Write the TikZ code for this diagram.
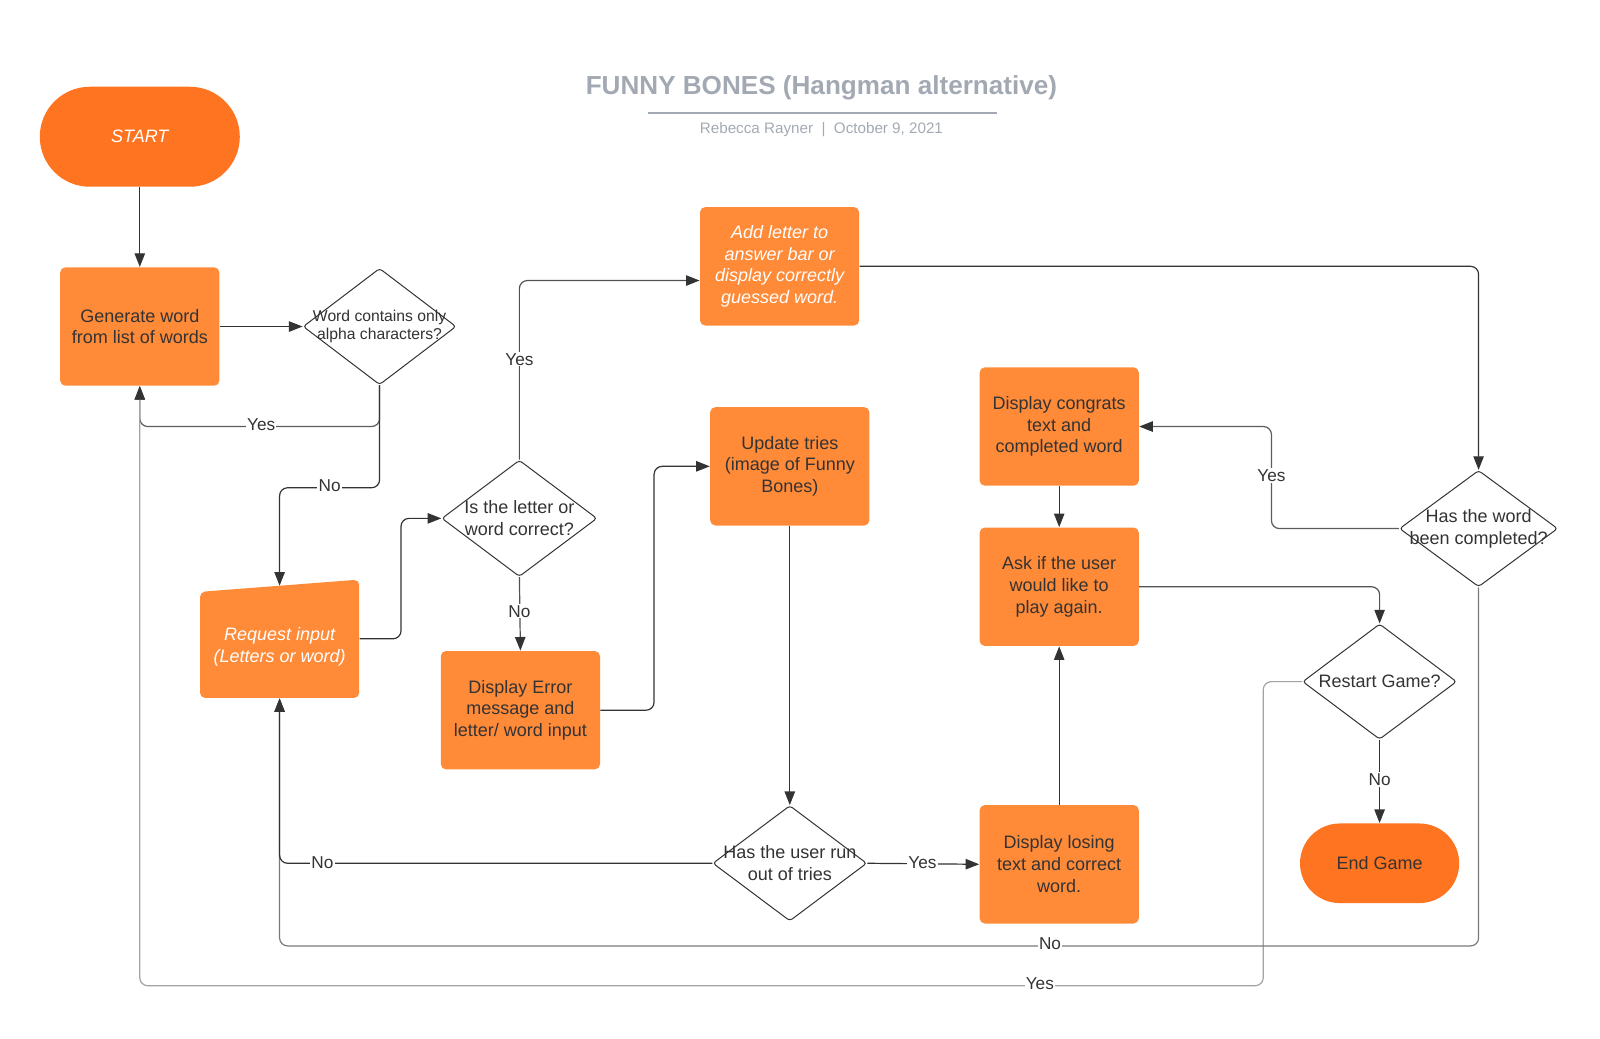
\documentclass[tikz,border=0pt]{standalone}
\usepackage{fontspec}
\setmainfont{Liberation Sans}
\usetikzlibrary{shapes.geometric,arrows.meta}
\definecolor{boxor}{HTML}{FF8A38}
\definecolor{termor}{HTML}{FF7420}
\definecolor{txt}{HTML}{333333}
\definecolor{ln}{HTML}{333333}
\definecolor{ttl}{HTML}{A3A9B3}
\newcommand\boxfont{\fontsize{9}{10.9}\selectfont}
\newcommand\smallfont{\fontsize{7.85}{9.3}\selectfont}
\newcommand\labfont{\fontsize{8.6}{9.8}\selectfont}
\tikzset{
  box/.style={rectangle, rounded corners=2.6pt, fill=boxor, minimum width=79.6pt, minimum height=59.2pt,
    align=center, text=txt, font=\boxfont, inner sep=1pt},
  term/.style={rectangle, fill=termor, align=center, font=\boxfont, inner sep=0pt},
  dia/.style={diamond, draw=ln, line width=0.5pt, inner sep=0pt, rounded corners=1.5pt, fill=white},
  dlab/.style={align=center, text=txt, font=\boxfont, inner sep=0pt},
  conn/.style={draw=ln, line width=0.6pt, -{Triangle[length=6.8pt,width=5.2pt,color=ln]}, rounded corners=4pt},
  lab/.style={fill=white, inner sep=0.6pt, font=\labfont, text=txt}
}
\begin{document}
\begin{tikzpicture}[x=0.5102pt,y=-0.5102pt]
\useasboundingbox (0,0) rectangle (1568,1017.3);

% title
\node[font=\fontsize{13.05}{15}\selectfont\bfseries, text=ttl] (title) at (805,86) {FUNNY BONES (Hangman alternative)};
\coordinate (tl) at (635,111);
\coordinate (tr) at (977,111);
\draw[ttl, line width=1pt] (tl) -- (tr);
\node[font=\fontsize{7.6}{9}\selectfont, text=ttl] (sub) at (805,127) {Rebecca Rayner\ \ |\ \ October 9, 2021};

% nodes
\node[term, minimum width=100pt, minimum height=50pt, rounded corners=25pt, text=white, font=\boxfont\itshape] (start) at (137,134) {START};
\node[box] (gen) at (137,320) {Generate word\\from list of words};
\node[dia, minimum width=76.5pt, minimum height=58.2pt,
  label={[dlab, font=\smallfont]center:{Word contains only\\alpha characters?}}] (d1) at (372,320) {};
\node[box, text=white, font=\boxfont\itshape] (add) at (764,261) {Add letter to\\answer bar or\\display correctly\\guessed word.};
\node[dia, minimum width=77.6pt, minimum height=58.2pt,
  label={[dlab]center:{Is the letter or\\word correct?}}] (d2) at (509,508) {};
\node[box] (upd) at (774,457) {Update tries\\(image of Funny\\Bones)};
\node[box] (cong) at (1038,418) {Display congrats\\text and\\completed word};
\node[box] (ask) at (1038,575) {Ask if the user\\would like to\\play again.};
\node[dia, minimum width=79.1pt, minimum height=58.2pt,
  label={[dlab]center:{Has the word\\been completed?}}] (d3) at (1449,518) {};
\fill[boxor, rounded corners=2.6pt] (196,684) -- (196,580) -- (352,568) -- (352,684) -- cycle;
\node[minimum width=79.6pt, minimum height=59.2pt, inner sep=0pt,
  label={[dlab, text=white, font=\boxfont\itshape, yshift=-4pt]center:{Request input\\(Letters or word)}}] (req) at (274,626) {};
\coordinate (reqtop) at (274,574);
\node[box] (err) at (510,696) {Display Error\\message and\\letter/ word input};
\node[dia, minimum width=77pt, minimum height=57.7pt,
  label={[dlab]center:{Restart Game?}}] (rst) at (1352,668) {};
\node[term, minimum width=79.6pt, minimum height=39.8pt, rounded corners=19.9pt, text=txt] (endg) at (1352,846) {End Game};
\node[dia, minimum width=77pt, minimum height=57.7pt,
  label={[dlab]center:{Has the user run\\out of tries}}] (d4) at (774,846) {};
\node[box] (lose) at (1038,847) {Display losing\\text and correct\\word.};

% connectors
\draw[conn] (start) -- (gen);
\draw[conn] (gen) -- (d1);
\draw[conn, draw=ln!80] (d1.south) |- (256,418) -| (gen.south);
\draw[conn] (d1.south) |- (323,478) -| (reqtop);
\draw[conn] (req.east) -| (393,560) |- (d2.west);
\draw[conn, draw=ln!85] (d2.north) |- ([yshift=-7.1pt]add.west);
\draw[conn, draw=ln!85] (d2.south) -- (err.north);
\draw[conn] (err.east) -| (641,500) |- (upd.west);
\draw[conn] (upd.south) -- (d4.north);
\draw[conn] (add.east) -| (d3.north);
\draw[conn, draw=ln!80] (d3.west) -| (1246,466) |- (cong.east);
\draw[conn] (cong.south) -- (ask.north);
\draw[conn, draw=ln!85] (ask.east) -| (rst.north);
\draw[conn] (rst.south) -- (endg.north);
\draw[conn, draw=ln!45] (rst.west) -| (1238,966) -| (gen.south);
\draw[conn, draw=ln!65] (d3.south) |- (1029,927) -| (req.south);
\draw[conn] (d4.west) -| (req.south);
\draw[conn] (d4.east) -- (lose.west);
\draw[conn] (lose.north) -- (ask.south);

% labels
\node[lab] (l1) at (256,416) {Yes};
\node[lab] (l2) at (323,476) {No};
\node[lab] (l3) at (509,352) {Yes};
\node[lab] (l4) at (509,599) {No};
\node[lab] (l5) at (1246,466) {Yes};
\node[lab] (l6) at (1352,764) {No};
\node[lab] (l7) at (316,845) {No};
\node[lab] (l8) at (904,845) {Yes};
\node[lab] (l9) at (1029,925) {No};
\node[lab] (l10) at (1019,964) {Yes};
\end{tikzpicture}
\end{document}
